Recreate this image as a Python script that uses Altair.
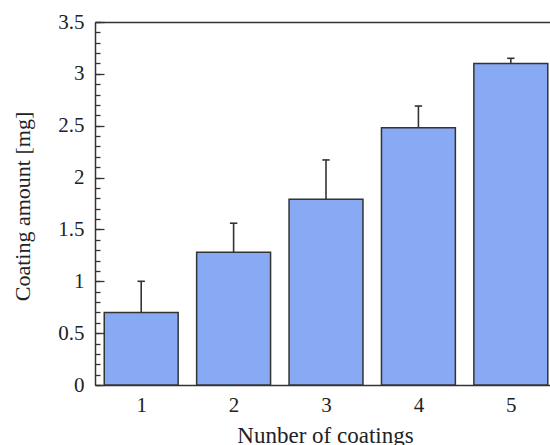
import altair as alt
import pandas as pd

# ---- data ----
coatings = [1, 2, 3, 4, 5]
amount = [0.70, 1.28, 1.79, 2.48, 3.10]
error = [0.30, 0.28, 0.38, 0.21, 0.05]
x_tick_values = [1, 2, 3, 4, 5]
y_major = [0, 0.5, 1, 1.5, 2, 2.5, 3, 3.5]
y_minor = [0.0, 0.1, 0.2, 0.3, 0.4, 0.5, 0.6, 0.7, 0.8, 0.9,
           1.0, 1.1, 1.2, 1.3, 1.4, 1.5, 1.6, 1.7, 1.8, 1.9,
           2.0, 2.1, 2.2, 2.3, 2.4, 2.5, 2.6, 2.7, 2.8, 2.9,
           3.0, 3.1, 3.2, 3.3, 3.4, 3.5]

df = pd.DataFrame({"n": coatings, "amount": amount, "err": error})

W, H = 455, 363
FONT = "Liberation Serif"
INK = "#333333"

xscale = alt.Scale(domain=[0.5, 5.424], nice=False, zero=False)
yscale = alt.Scale(domain=[0, 3.5], nice=False, zero=True)

base = alt.Chart(df).transform_calculate(
    x0="datum.n - 0.4",
    x1="datum.n + 0.4",
    top="datum.amount + datum.err",
    cl="datum.n - 0.04",
    cr="datum.n + 0.04",
    zero="0",
)

bars = base.mark_bar(color="#88A9F4", stroke=INK, strokeWidth=1.5).encode(
    x=alt.X(
        "x0:Q",
        scale=xscale,
        axis=alt.Axis(
            orient="bottom", values=x_tick_values, ticks=False, grid=False,
            domain=True, domainColor=INK, domainWidth=1.5,
            labelFont=FONT, labelFontSize=21, labelColor="#222", labelPadding=9,
            title="Nunber of coatings", titleFont=FONT, titleFontSize=23,
            titleFontWeight="normal", titleColor="#222",
            titleX=230, titleY=57, titleBaseline="alphabetic",
        ),
    ),
    x2="x1:Q",
    y=alt.Y(
        "amount:Q",
        scale=yscale,
        axis=alt.Axis(
            orient="left", values=y_major, format="~g", ticks=False, grid=False,
            domain=True, domainColor=INK, domainWidth=1.5,
            labelFont=FONT, labelFontSize=21, labelColor="#222", labelPadding=11,
            title="Coating amount [mg]", titleFont=FONT, titleFontSize=22,
            titleFontWeight="normal", titleColor="#222",
            titleX=-73, titleY=184, titleBaseline="middle", titleAngle=-90,
        ),
    ),
    y2="zero:Q",
)

err_lines = base.mark_rule(color=INK, strokeWidth=1.6).encode(
    x=alt.X(
        "n:Q",
        scale=xscale,
        axis=alt.Axis(orient="top", labels=False, ticks=False, grid=False,
                      domain=True, domainColor=INK, domainWidth=1.5, title=None),
    ),
    y=alt.Y(
        "amount:Q",
        scale=yscale,
        axis=alt.Axis(orient="right", offset=-W, values=y_minor, tickSize=5,
                      tickColor=INK, tickWidth=1.3, labels=False, domain=False,
                      grid=False, title=None, zindex=1),
    ),
    y2="top:Q",
)

caps = base.mark_rule(color=INK, strokeWidth=1.6).encode(
    x=alt.X("cl:Q", scale=xscale, axis=None),
    x2="cr:Q",
    y=alt.Y(
        "top:Q",
        scale=yscale,
        axis=alt.Axis(orient="right", offset=-W, values=y_major, tickSize=9,
                      tickColor=INK, tickWidth=1.3, labels=False, domain=False,
                      grid=False, title=None, zindex=1),
    ),
)

chart = (
    alt.layer(bars, err_lines, caps)
    .resolve_axis(x="independent", y="independent")
    .properties(
        width=W,
        height=H,
        autosize=alt.AutoSizeParams(type="none"),
        padding={"left": 95, "top": 22, "right": 0, "bottom": 60},
        background="white",
    )
    .configure_view(stroke=None)
)

chart.save("out.html", embed_options={"renderer": "svg", "actions": False})
